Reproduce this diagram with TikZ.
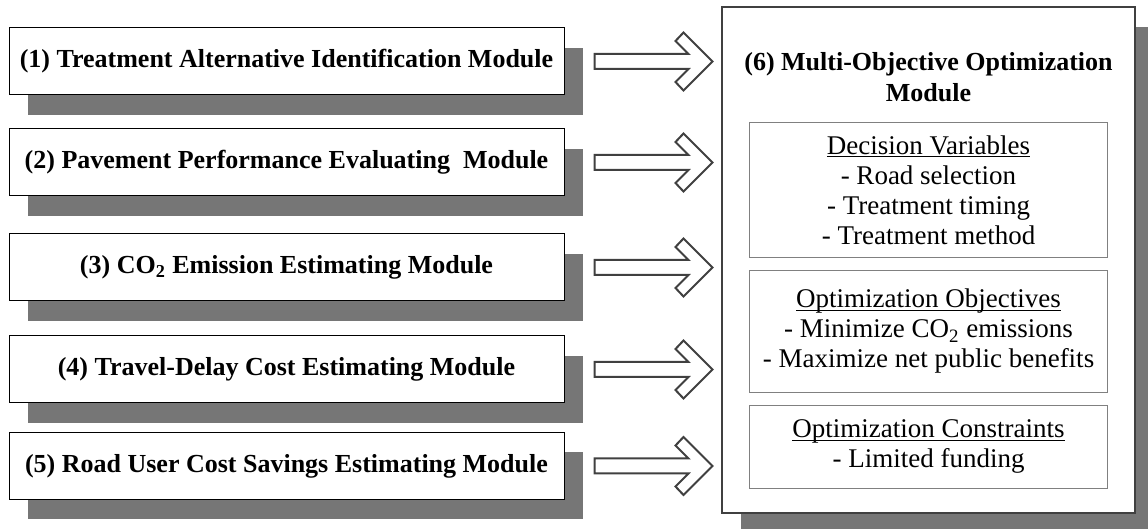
\documentclass[tikz,border=0pt]{standalone}
\usepackage{fontspec}
\setmainfont{Liberation Serif}
\usepackage{tikz}
\usetikzlibrary{positioning, calc, shadows}

\definecolor{shadowgray}{RGB}{118,118,118}
\definecolor{arrowgray}{RGB}{64,64,64}
\definecolor{innergray}{RGB}{128,128,128}

% underline at a fixed depth, through the descenders
\newcommand{\ulhead}[1]{\setbox0\hbox{#1}\rlap{\rule[-1.6pt]{\wd0}{0.6pt}}\box0}

\begin{document}
\begin{tikzpicture}[
    x=0.5pt, y=-0.5pt,
    node distance=50.5pt,
    on grid,
    boxshadow/.style={drop shadow={shadow xshift=9.5pt, shadow yshift=-10pt, fill=shadowgray, opacity=1}},
    modbox/.style={draw=black, line width=0.5pt, fill=white, boxshadow,
        minimum width=277.5pt, minimum height=33.5pt,
        font=\fontsize{13}{15}\selectfont\bfseries},
    bigbox/.style={draw=arrowgray, line width=0.7pt, fill=white, boxshadow,
        minimum width=206.5pt, minimum height=253pt},
    titletext/.style={align=center, font=\fontsize{13}{15.5}\selectfont\bfseries},
    innerbox/.style={draw=innergray, line width=0.5pt, fill=white, align=center,
        minimum width=179pt, font=\fontsize{13.5}{15}\selectfont},
    blockarrow/.style={draw=arrowgray, line width=1pt, fill=white, line join=miter}
]
\useasboundingbox (0,0) rectangle (1148,529);

% input modules
\node[modbox] (m1) at (286.5,61.5) {(1) Treatment Alternative Identification Module};
\node[modbox, below=of m1] (m2) {(2) Pavement Performance Evaluating~ Module};
\node[modbox, below=52.5pt of m2] (m3) {(3) CO\textsubscript{2} Emission Estimating Module};
\node[modbox, below=51pt of m3] (m4) {(4) Travel-Delay Cost Estimating Module};
\node[modbox, below=48.25pt of m4] (m5) {(5) Road User Cost Savings Estimating Module};

% optimization module
\node[bigbox] (m6) at (928.5,260) {};
\node[titletext] (t6) at ($(m6.north)+(0,70.5)$) {(6) Multi-Objective Optimization\\Module};
\node[innerbox, minimum height=67.5pt, below=56.5pt of t6] (dv)
    {\ulhead{Decision Variables}\\- Road selection\\- Treatment timing\\- Treatment method};
\node[innerbox, minimum height=61pt, below=70.75pt of dv] (oo)
    {\ulhead{Optimization Objectives}\\- Minimize CO\textsubscript{2} emissions\\- Maximize net public benefits};
\node[innerbox, minimum height=41.5pt, below=57.75pt of oo] (oc)
    {\ulhead{Optimization Constraints}\\- Limited funding};

% block arrows
\foreach \i in {1,...,5}
    \draw[blockarrow] ($(m\i.east)+(30,0)$) ++(0,-7.5) -- ++(94,0) -- ++(-13,-13) -- ++(8,-8.5)
        -- ++(29,29) -- ++(-29,29) -- ++(-8,-8.5) -- ++(13,-13) -- ++(-94,0) -- cycle;

\end{tikzpicture}
\end{document}
